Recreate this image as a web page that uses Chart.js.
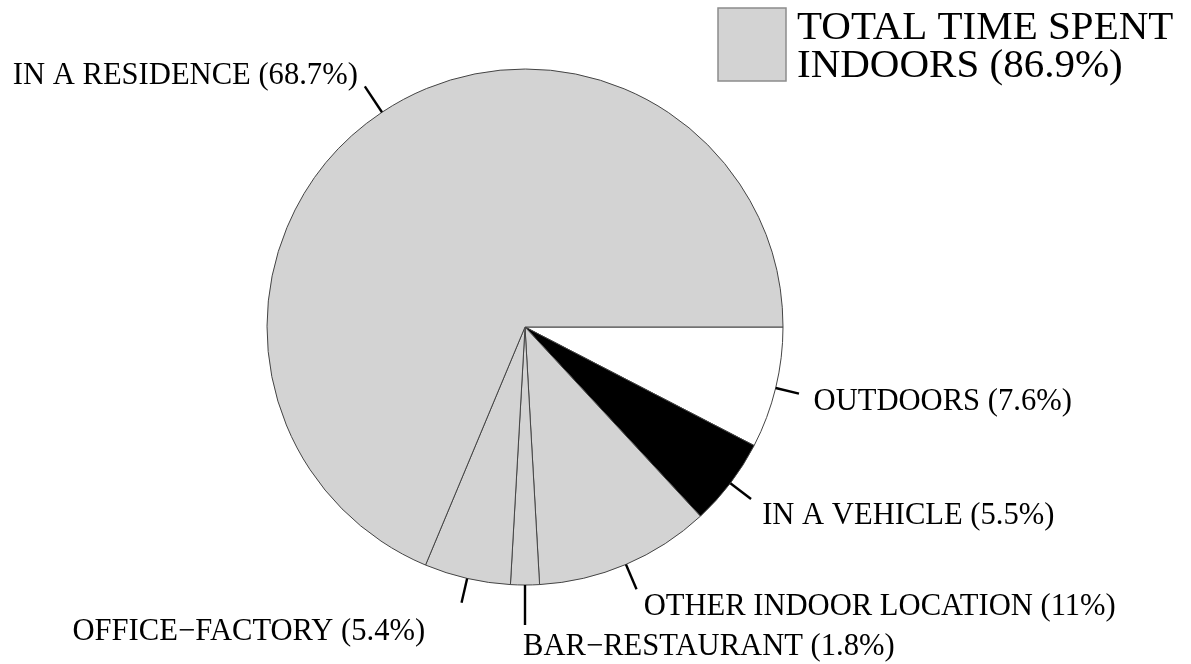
<!DOCTYPE html>
<html lang="en">
<head>
    <meta charset="UTF-8">
    <title>Time Spent by Location</title>
    <script src="https://cdn.jsdelivr.net/npm/chart.js"></script>
    <style>
        body {
            margin: 0;
            padding: 0;
            background: #ffffff;
        }
        .chart-box {
            width: 1191px;
            height: 664px;
        }
    </style>
</head>
<body>
    <div class="chart-box">
        <canvas id="locationPie" width="1191" height="664"></canvas>
    </div>

    <script>
        // slices listed clockwise starting at 3 o'clock
        const locations = ['OUTDOORS', 'IN A VEHICLE', 'OTHER INDOOR LOCATION', 'BAR\u2212RESTAURANT', 'OFFICE\u2212FACTORY', 'IN A RESIDENCE'];
        const percents = [7.6, 5.5, 11, 1.8, 5.4, 68.7];
        const sliceColors = ['#ffffff', '#000000', '#d3d3d3', '#d3d3d3', '#d3d3d3', '#d3d3d3'];
        const legendLines = ['TOTAL TIME SPENT', 'INDOORS (86.9%)'];

        // label tweaks (px): tick length, nudge of text
        const tickLen = [24, 26, 27, 40, 25, 31];
        const nudgeX = [-1, 0, 2, -2, -33, -2];
        const nudgeY = [4, 9, 6, 22, 15, -3];

        const serif = '"Liberation Serif", "DejaVu Serif", serif';

        const labelPlugin = {
            id: 'pieLabels',
            afterDraw(chart) {
                const ctx = chart.ctx;
                const arcs = chart.getDatasetMeta(0).data;
                ctx.save();
                ctx.font = '30.6px ' + serif;
                ctx.fillStyle = '#000';
                ctx.strokeStyle = '#000';
                ctx.lineWidth = 2.4;
                ctx.textBaseline = 'middle';
                arcs.forEach((arc, i) => {
                    const mid = (arc.startAngle + arc.endAngle) / 2;
                    const cx = Math.cos(mid), cy = Math.sin(mid);
                    const r = arc.outerRadius;
                    ctx.beginPath();
                    ctx.moveTo(arc.x + cx * r, arc.y + cy * r);
                    ctx.lineTo(arc.x + cx * (r + tickLen[i]), arc.y + cy * (r + tickLen[i]));
                    ctx.stroke();
                    const tx = arc.x + cx * (r + 40) + nudgeX[i];
                    const ty = arc.y + cy * (r + 40) + nudgeY[i];
                    ctx.textAlign = cx < -0.01 ? 'right' : 'left';
                    ctx.fillText(locations[i] + ' (' + percents[i] + '%)', tx, ty);
                });

                // legend box
                ctx.fillStyle = '#d3d3d3';
                ctx.fillRect(718, 8, 68, 73);
                ctx.strokeStyle = '#8c8c8c';
                ctx.lineWidth = 1.5;
                ctx.strokeRect(718, 8, 68, 73);
                ctx.fillStyle = '#000';
                ctx.font = '41px ' + serif;
                ctx.textAlign = 'left';
                ctx.textBaseline = 'alphabetic';
                legendLines.forEach((line, k) => {
                    ctx.fillText(line, 797, 39 + k * 38);
                });
                ctx.restore();
            }
        };

        const ctx = document.getElementById('locationPie').getContext('2d');
        new Chart(ctx, {
            type: 'pie',
            data: {
                labels: locations,
                datasets: [{
                    data: percents,
                    backgroundColor: sliceColors,
                    borderColor: '#444444',
                    borderWidth: 1,
                    borderAlign: 'center',
                    hoverOffset: 0
                }]
            },
            options: {
                responsive: false,
                animation: false,
                rotation: 90,
                radius: 258,
                layout: {
                    padding: { left: 267, right: 408, top: 69, bottom: 79 }
                },
                plugins: {
                    legend: { display: false },
                    tooltip: { enabled: false }
                }
            },
            plugins: [labelPlugin]
        });
    </script>
</body>
</html>
